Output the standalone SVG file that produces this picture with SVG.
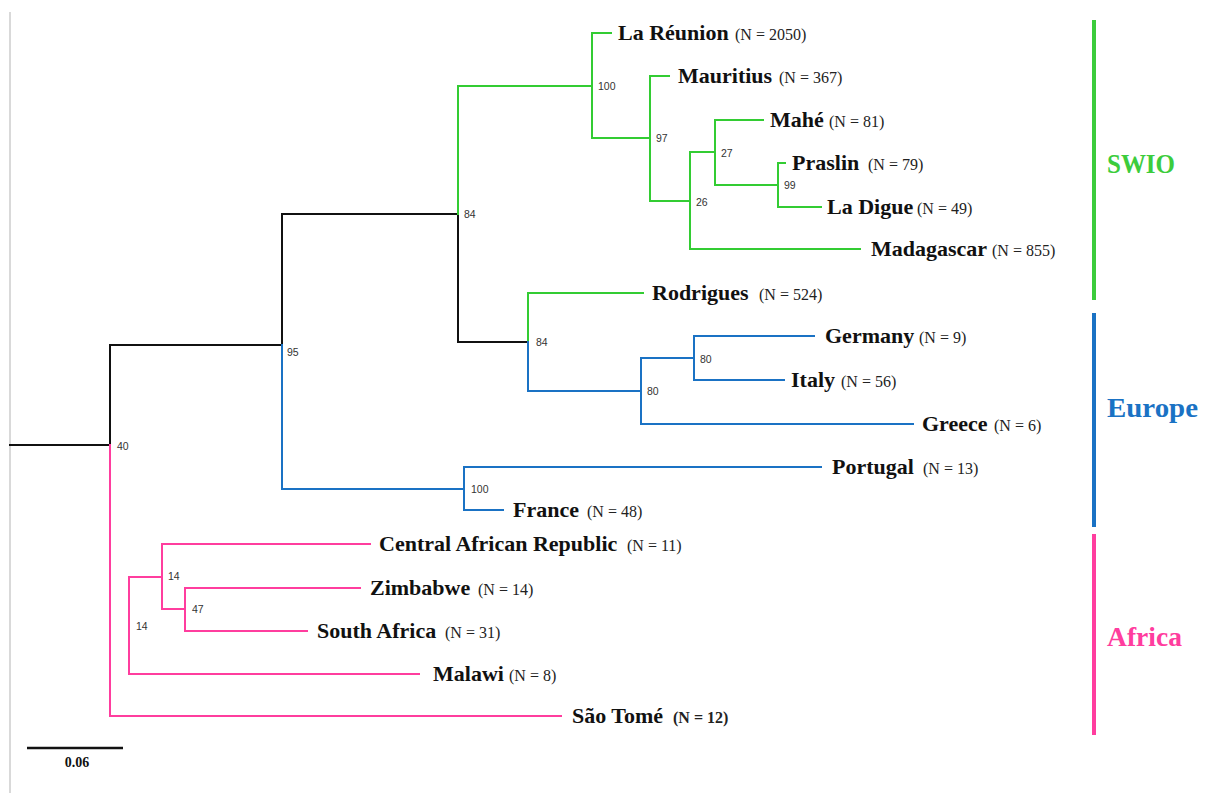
<svg xmlns="http://www.w3.org/2000/svg" width="1208" height="793" viewBox="0 0 1208 793">
<style>
.k{fill:none;stroke:#111;stroke-width:2;stroke-linecap:square}
.g{fill:none;stroke:#33cc33;stroke-width:2;stroke-linecap:square}
.b{fill:none;stroke:#1a72c4;stroke-width:2;stroke-linecap:square}
.p{fill:none;stroke:#ff3d9e;stroke-width:2;stroke-linecap:square}
.nm{font-family:"Liberation Serif","Times New Roman",serif;font-weight:bold;font-size:22px;fill:#111}
.n{font-family:"Liberation Serif","Times New Roman",serif;font-size:16px;fill:#222}
.bs{font-family:"Liberation Sans",Arial,sans-serif;font-size:10.5px;fill:#333}
.grp{font-family:"Liberation Serif","Times New Roman",serif;font-weight:bold;font-size:27px}
</style>
<rect width="1208" height="793" fill="#fff"/>
<line x1="10" y1="12" x2="10" y2="793" stroke="#cccccc" stroke-width="1.5"/>
<g id="connectors">
<path class="k" d="M10,445 H110 V345 H282 V214 H458 V342 H528"/>
<path class="g" d="M458,214 V86 H592 M592,33 V138 M592,33 H611 M592,138 H650 M650,76 V201 M650,76 H669 M650,201 H690 M690,152 V249 M690,249 H860 M690,152 H715 M715,120 V185 M715,120 H763 M715,185 H778 M778,163 V207 M778,163 H785 M778,207 H821 M528,342 V293 H643"/>
<path class="b" d="M528,342 V391 H641 M641,358 V424 M641,358 H694 M641,424 H913 M694,336 V380 M694,336 H814 M694,380 H784 M282,345 V489 H464 M464,467 V510 M464,467 H821 M464,510 H503"/>
<path class="p" d="M110,445 V716 H561 M129,577 V674 M129,674 H419 M129,577 H162 M162,544 V609 M162,544 H370 M162,609 H185 M185,588 V631 M185,588 H360 M185,631 H307"/>
</g>
<g id="bootstrap">
<text class="bs" x="117" y="449.5">40</text>
<text class="bs" x="287" y="355.5">95</text>
<text class="bs" x="464" y="217.5">84</text>
<text class="bs" x="598" y="89.5">100</text>
<text class="bs" x="656" y="141.5">97</text>
<text class="bs" x="696" y="205.5">26</text>
<text class="bs" x="721" y="156.5">27</text>
<text class="bs" x="784" y="188.5">99</text>
<text class="bs" x="536" y="345.5">84</text>
<text class="bs" x="647" y="394.5">80</text>
<text class="bs" x="700" y="362.5">80</text>
<text class="bs" x="471" y="492.5">100</text>
<text class="bs" x="168" y="579.5">14</text>
<text class="bs" x="192" y="612.5">47</text>
<text class="bs" x="136" y="629.5">14</text>
</g>
<g id="la-reunion"><text class="nm" x="618" y="40">La Réunion</text><text class="n" x="735" y="40">(N = 2050)</text></g>
<g id="mauritius"><text class="nm" x="678" y="83">Mauritius</text><text class="n" x="779" y="83">(N = 367)</text></g>
<g id="mahe"><text class="nm" x="770" y="127">Mahé</text><text class="n" x="829" y="127">(N = 81)</text></g>
<g id="praslin"><text class="nm" x="792" y="170">Praslin</text><text class="n" x="868" y="170">(N = 79)</text></g>
<g id="la-digue"><text class="nm" x="827" y="214">La Digue</text><text class="n" x="917" y="214">(N = 49)</text></g>
<g id="madagascar"><text class="nm" x="871" y="256">Madagascar</text><text class="n" x="992" y="256">(N = 855)</text></g>
<g id="rodrigues"><text class="nm" x="652" y="300">Rodrigues</text><text class="n" x="759" y="300">(N = 524)</text></g>
<g id="germany"><text class="nm" x="825" y="343">Germany</text><text class="n" x="919" y="343">(N = 9)</text></g>
<g id="italy"><text class="nm" x="791" y="387">Italy</text><text class="n" x="841" y="387">(N = 56)</text></g>
<g id="greece"><text class="nm" x="922" y="431">Greece</text><text class="n" x="994" y="431">(N = 6)</text></g>
<g id="portugal"><text class="nm" x="832" y="474">Portugal</text><text class="n" x="923" y="474">(N = 13)</text></g>
<g id="france"><text class="nm" x="513" y="517">France</text><text class="n" x="587" y="517">(N = 48)</text></g>
<g id="car"><text class="nm" x="379" y="551">Central African Republic</text><text class="n" x="627" y="551">(N = 11)</text></g>
<g id="zimbabwe"><text class="nm" x="370" y="595">Zimbabwe</text><text class="n" x="478" y="595">(N = 14)</text></g>
<g id="south-africa"><text class="nm" x="317" y="638">South Africa</text><text class="n" x="445" y="638">(N = 31)</text></g>
<g id="malawi"><text class="nm" x="433" y="681">Malawi</text><text class="n" x="509" y="681">(N = 8)</text></g>
<g id="sao-tome"><text class="nm" x="572" y="723">São Tomé</text><text class="n" x="673" y="723" font-weight="bold">(N = 12)</text></g>
<g id="group-swio"><line x1="1094" y1="20" x2="1094" y2="300" stroke="#3ccc3c" stroke-width="4"/><text class="grp" x="1107" y="173" fill="#3ccc3c" textLength="68" lengthAdjust="spacingAndGlyphs">SWIO</text></g>
<g id="group-europe"><line x1="1094" y1="313" x2="1094" y2="527" stroke="#1a72c4" stroke-width="4"/><text class="grp" x="1107" y="417" fill="#1a72c4" textLength="91" lengthAdjust="spacingAndGlyphs">Europe</text></g>
<g id="group-africa"><line x1="1094" y1="534" x2="1094" y2="735" stroke="#ff3d9e" stroke-width="4"/><text class="grp" x="1107" y="646" fill="#ff3d9e" textLength="75" lengthAdjust="spacingAndGlyphs">Africa</text></g>
<g id="scale-bar"><line x1="27" y1="748" x2="123" y2="748" stroke="#111" stroke-width="2.5"/><text x="77" y="767" text-anchor="middle" font-family="Liberation Serif, serif" font-weight="bold" font-size="14" fill="#111">0.06</text></g>
</svg>
